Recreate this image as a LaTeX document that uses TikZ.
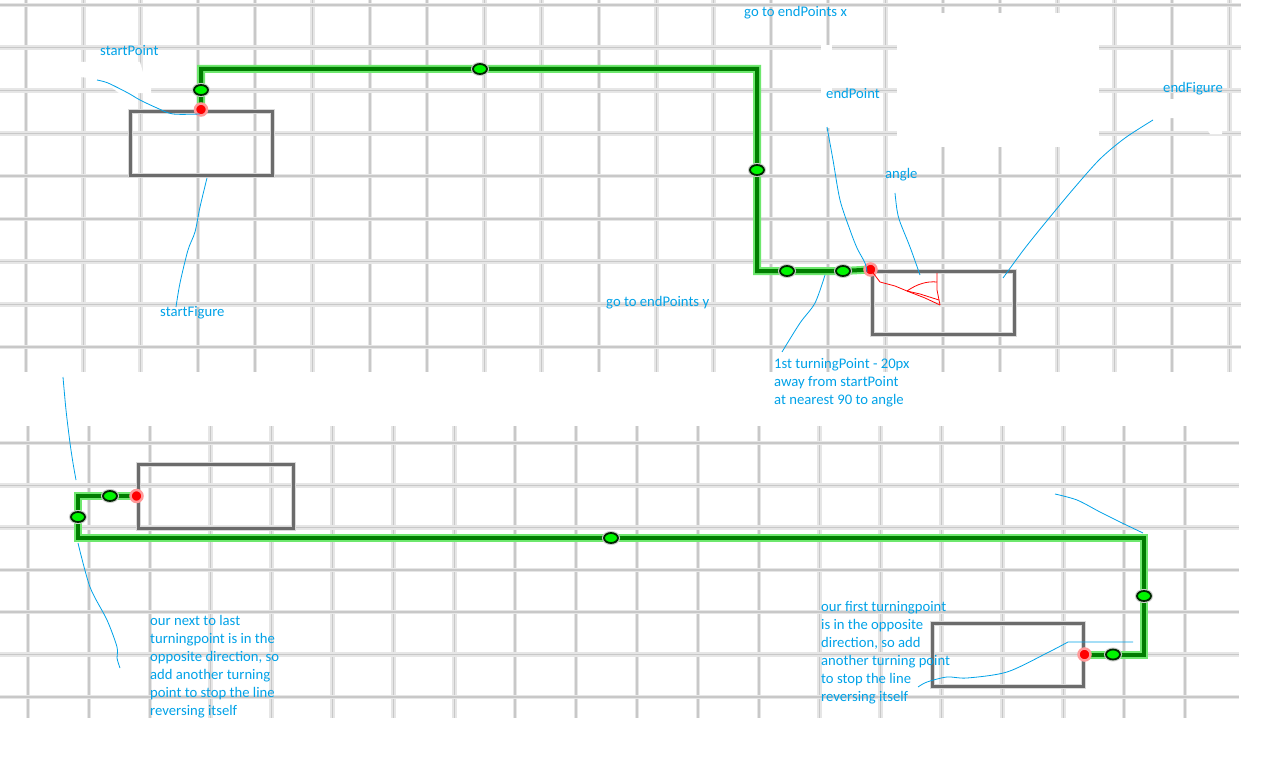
\documentclass[tikz,border=0pt]{standalone}
\usepackage{fontspec}
\setmainfont{Carlito}
\usetikzlibrary{shapes.geometric}
\definecolor{notecol}{RGB}{0,162,232}
\definecolor{wirecol}{RGB}{0,125,0}
\definecolor{glowcol}{RGB}{110,232,110}
\definecolor{dotcol}{RGB}{0,245,0}
\definecolor{gridcol}{RGB}{200,200,200}
\definecolor{gridband}{RGB}{230,230,230}

\begin{document}
\begin{tikzpicture}[x=1pt, y=-1pt,
      grid line/.style={draw=gridcol, line width=1.5pt, preaction={draw=gridband, line width=4.5pt}},
      figure box/.style={draw=black!58, line width=3pt, preaction={draw=black!15, line width=5pt}, inner sep=0pt, minimum height=64pt},
      wire/.style={draw=wirecol, line width=4pt, preaction={draw=glowcol, line width=8pt}},
      turn dot/.style={ellipse, fill=dotcol, draw=black!85!green, line width=1.8pt, minimum width=14pt, minimum height=10pt, inner sep=0pt, preaction={draw=black!20, line width=4pt}},
      end dot/.style={circle, fill=red, draw=red!40, line width=2.5pt, minimum size=12pt, inner sep=0pt},
      angle mark/.style={draw=red, line width=0.8pt},
      note/.style={text=notecol, font=\fontsize{14.67}{18}\selectfont, inner sep=0pt, align=left},
      leader/.style={draw=notecol, line width=0.8pt}]
    \useasboundingbox (0,0) rectangle (1280,760);
    \fill[white] (0,0) rectangle (1280,760);
    % grids
    \foreach \k in {0,...,21} \draw[grid line] ({26+57.3*\k},0) -- ({26+57.3*\k},372);
    \foreach \k in {0,...,8} \draw[grid line] (0,{5+42.75*\k}) -- (1241,{5+42.75*\k});
    \foreach \k in {0,...,19} \draw[grid line] ({28+60.9*\k},426) -- ({28+60.9*\k},718);
    \foreach \k in {0,...,6} \draw[grid line] (0,{443+42.3*\k}) -- (1239,{443+42.3*\k});
    \fill[white] (79,62) -- (140,62) -- (144,76) -- (151,88) -- (151,93) -- (119,93) -- (100,79) -- (79,77) -- cycle;
    \fill[white] (897,13) rectangle (1099,147);
    \fill[white] (821,45) rectangle (832,128);
    \fill[white] (1150,99) -- (1222,99) -- (1222,134) -- (1210,134) -- (1200,118) -- (1160,118) -- (1150,112) -- cycle;
    % figures
    \node[figure box, minimum width=142pt] (startFig) at (201,143) {};
    \node[figure box, minimum width=142pt, minimum height=63pt] (endFig) at (943,302.5) {};
    \node[figure box, minimum width=155pt] (leftFig) at (215.5,496) {};
    \node[figure box, minimum width=151pt, minimum height=63pt] (rightFig) at (1007.5,654.5) {};
    % top route
    \coordinate (sp) at (startFig.north);
    \coordinate (t1) at (201,90);
    \coordinate (t2) at (480,69);
    \coordinate (t3) at (757,170);
    \coordinate (t4) at (787,271);
    \coordinate (t5) at (843,271);
    \coordinate (ep) at (endFig.north west);
    \draw[wire] (sp) -- (t1) |- (t2) -| (t3) |- (t4) -- (t5) -- (ep);
    % bottom route
    \coordinate (sp2) at (leftFig.west);
    \coordinate (u1) at (110,496);
    \coordinate (u2) at (78,517);
    \coordinate (u3) at (611,538);
    \coordinate (u4) at (1144,596);
    \coordinate (u5) at (1113,654.5);
    \coordinate (ep2) at (rightFig.east);
    \draw[wire] (sp2) -- (u1) -| (u2) |- (u3) -| (u4) |- (u5) -- (ep2);
    \foreach \p in {t1,t2,t3,t4,t5,u1,u2,u3,u4,u5}
      \node[turn dot] (\p-dot) at (\p) {};
    \foreach \p in {sp,ep,sp2,ep2}
      \node[end dot] (\p-dot) at (\p) {};
    % angle sketch
    \draw[angle mark] (ep) -- (880,282) -- (895,286) -- (907,291) -- (920,294) -- (939,300);
    \draw[angle mark] (907,291) -- (925,298) -- (940,305);
    \draw[angle mark] (937,273) -- (937,290) -- (940,305);
    \draw[angle mark] (907,291) .. controls (917,284) and (927,281) .. (937,282);
    % labels
    \node[note, anchor=west] (lblStartPoint) at (100,51) {startPoint};
    \node[note, anchor=west] (lblStartFig) at (160,313) {startFigure};
    \node[note, anchor=west] (lblGoX) at (744,13) {go to endPoints x};
    \node[note, anchor=west] (lblEndPoint) at (826,93) {endPoint};
    \node[note, anchor=west] (lblEndFig) at (1163,89) {endFigure};
    \node[note, anchor=west] (lblAngle) at (885,175) {angle};
    \node[note, anchor=west] (lblGoY) at (606,303) {go to endPoints y};
    \node[note, anchor=north west] (lblFirst) at (774,358) {1st turningPoint - 20px\\away from startPoint\\at nearest 90 to angle};
    \node[note, anchor=north west] (lblNextLast) at (150,615.5) {our next to last\\turningpoint is in the\\opposite direction, so\\add another turning\\point to stop the line\\reversing itself};
    \node[note, anchor=north west] (lblFirstOpp) at (821,601.5) {our first turningpoint\\is in the opposite\\direction, so add\\another turning point\\to stop the line\\reversing itself};
    % leaders
    \draw[leader] plot[smooth] coordinates {(97,80) (108,83) (128,93) (140,100) (157,108) (173,114) (200,114)};
    \draw[leader] plot[smooth] coordinates {(207,178) (200,207) (195,232) (188,250) (180,283) (176,307)};
    \draw[leader] plot[smooth] coordinates {(827,127) (833,160) (840,200) (850,230) (857,248) (865,263) (867,272)};
    \draw[leader] plot[smooth] coordinates {(895,193) (897,210) (900,222) (910,247) (920,275)};
    \draw[leader] plot[smooth] coordinates {(1153,120) (1125,138) (1100,159) (1075,187) (1050,217) (1025,248) (1003,278)};
    \draw[leader] plot[smooth] coordinates {(782,352) (800,323) (815,303) (825,275)};
    \draw[leader] plot[smooth] coordinates {(63,377) (66,410) (70,443) (73,463) (76,480)};
    \draw[leader] plot[smooth] coordinates {(78,543) (90,587) (107,620) (117,647) (117,658) (120,668)};
    \draw[leader] plot[smooth] coordinates {(1055,494) (1077,500) (1100,512) (1120,522) (1143,533)};
    \draw[leader] (1133,642) -- (1068,642) plot[smooth] coordinates {(1068,642) (1047,653) (1007,672) (967,678) (947,677) (927,682) (918,687)};
  \end{tikzpicture}
\end{document}
